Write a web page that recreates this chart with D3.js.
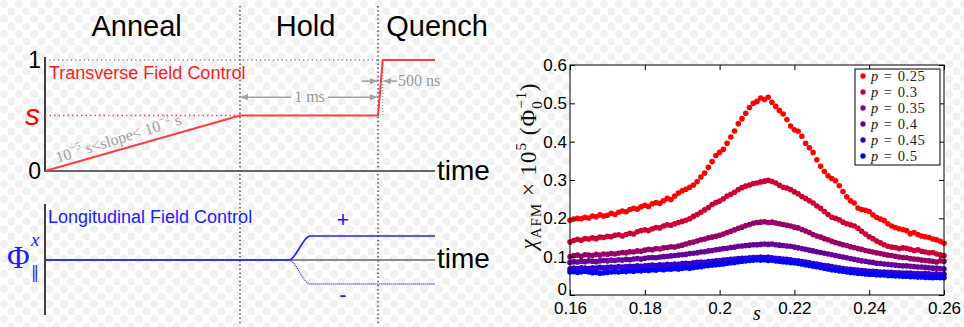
<!DOCTYPE html>
<html>
<head>
<meta charset="utf-8">
<script src="https://cdn.jsdelivr.net/npm/d3@7"></script>
<style>
  body { margin: 0; background: #fff; }
  svg { display: block; }
</style>
</head>
<body>
<div id="chart"></div>
<script>
// ---------- right panel data: chi_AFM x 10^5 vs s, one array per p ----------
const sValues = [
  0.160,0.161,0.162,0.163,0.164,0.165,0.166,0.167,0.168,0.169,
  0.170,0.171,0.172,0.173,0.174,0.175,0.176,0.177,0.178,0.179,
  0.180,0.181,0.182,0.183,0.184,0.185,0.186,0.187,0.188,0.189,
  0.190,0.191,0.192,0.193,0.194,0.195,0.196,0.197,0.198,0.199,
  0.200,0.201,0.202,0.203,0.204,0.205,0.206,0.207,0.208,0.209,
  0.210,0.211,0.212,0.213,0.214,0.215,0.216,0.217,0.218,0.219,
  0.220,0.221,0.222,0.223,0.224,0.225,0.226,0.227,0.228,0.229,
  0.230,0.231,0.232,0.233,0.234,0.235,0.236,0.237,0.238,0.239,
  0.240,0.241,0.242,0.243,0.244,0.245,0.246,0.247,0.248,0.249,
  0.250,0.251,0.252,0.253,0.254,0.255,0.256,0.257,0.258,0.259,
  0.260]

const chiP025 = [
  .195,.198,.200,.199,.203,.201,.206,.204,.209,.206,
  .208,.213,.210,.216,.219,.217,.223,.226,.224,.230,
  .234,.231,.238,.241,.239,.246,.252,.249,.258,.266,
  .272,.276,.281,.287,.296,.308,.318,.333,.348,.364,
  .372,.380,.396,.412,.428,.447,.460,.474,.489,.500,
  .505,.514,.510,.516,.503,.492,.481,.472,.458,.441,
  .431,.427,.414,.396,.384,.372,.353,.336,.322,.311,
  .304,.298,.285,.270,.256,.246,.240,.227,.223,.221,
  .218,.209,.202,.198,.194,.186,.180,.176,.173,.171,
  .168,.160,.163,.158,.154,.152,.150,.146,.144,.140,
  .135]

const chiP030 = [
  .138,.142,.145,.143,.147,.146,.149,.147,.151,.150,
  .153,.152,.156,.157,.154,.158,.161,.159,.165,.168,
  .170,.168,.173,.176,.175,.180,.183,.182,.186,.189,
  .192,.195,.199,.205,.210,.216,.222,.228,.236,.241,
  .245,.251,.258,.263,.268,.275,.280,.284,.287,.291,
  .292,.295,.297,.299,.296,.292,.286,.281,.279,.275,
  .269,.264,.257,.252,.246,.240,.232,.226,.218,.210,
  .203,.200,.196,.190,.186,.183,.180,.174,.166,.159,
  .152,.147,.141,.136,.131,.127,.125,.124,.121,.123,
  .122,.119,.116,.118,.114,.112,.110,.111,.107,.105,
  .103]

const chiP035 = [
  .100,.103,.104,.101,.105,.104,.103,.106,.104,.107,
  .106,.108,.107,.109,.111,.110,.113,.112,.115,.114,
  .117,.119,.118,.121,.120,.123,.124,.126,.125,.128,
  .130,.133,.136,.138,.141,.144,.146,.149,.151,.153,
  .156,.159,.163,.166,.170,.174,.177,.181,.184,.187,
  .189,.190,.191,.189,.190,.188,.186,.184,.182,.180,
  .177,.175,.171,.167,.163,.158,.154,.151,.147,.144,
  .140,.137,.134,.131,.129,.126,.124,.121,.119,.116,
  .114,.112,.110,.108,.106,.104,.103,.101,.099,.098,
  .097,.095,.094,.093,.091,.090,.089,.088,.086,.089,
  .088]

const chiP040 = [
  .085,.087,.086,.088,.087,.089,.088,.087,.089,.090,
  .089,.091,.090,.092,.091,.093,.092,.094,.095,.094,
  .096,.097,.098,.097,.099,.100,.101,.102,.103,.104,
  .105,.106,.108,.109,.110,.112,.113,.115,.116,.118,
  .119,.121,.122,.124,.125,.127,.128,.129,.130,.131,
  .131,.132,.133,.132,.133,.131,.130,.129,.128,.127,
  .125,.123,.121,.119,.117,.115,.113,.111,.109,.107,
  .105,.103,.101,.099,.097,.095,.093,.091,.089,.088,
  .086,.085,.083,.082,.081,.080,.079,.078,.077,.076,
  .076,.075,.074,.073,.073,.072,.071,.070,.070,.069,
  .068]

const chiP045 = [
  .068,.070,.069,.071,.070,.069,.071,.070,.072,.071,
  .072,.073,.072,.074,.073,.074,.075,.074,.076,.075,
  .076,.077,.078,.077,.079,.078,.080,.079,.081,.080,
  .082,.083,.082,.084,.085,.086,.085,.087,.088,.089,
  .090,.091,.092,.093,.094,.095,.096,.096,.097,.098,
  .098,.099,.098,.099,.097,.096,.095,.094,.093,.092,
  .090,.089,.087,.086,.084,.082,.081,.079,.077,.076,
  .074,.072,.071,.069,.068,.067,.066,.065,.064,.063,
  .062,.062,.061,.060,.060,.059,.059,.058,.058,.057,
  .057,.057,.056,.056,.055,.056,.055,.054,.055,.054,
  .054]

const chiP050 = [
  .060,.061,.059,.060,.062,.060,.058,.059,.057,.058,
  .059,.060,.061,.060,.062,.061,.063,.062,.064,.063,
  .065,.064,.066,.065,.067,.066,.068,.067,.069,.068,
  .070,.071,.070,.072,.073,.074,.076,.077,.078,.079,
  .080,.081,.083,.084,.085,.087,.088,.089,.090,.091,
  .092,.091,.092,.090,.091,.089,.088,.087,.086,.085,
  .084,.082,.081,.079,.077,.075,.074,.072,.070,.068,
  .066,.065,.063,.062,.060,.059,.058,.057,.056,.055,
  .054,.054,.053,.052,.052,.051,.051,.050,.050,.049,
  .049,.048,.048,.047,.047,.046,.046,.045,.046,.045,
  .045]

const pLabels = ['0.25', '0.3', '0.35', '0.4', '0.45', '0.5']
const seriesColors = ['#ff0000', '#cc0033', '#990066', '#660099', '#3300cc', '#0000ff']
const xTicks = [0.16, 0.18, 0.2, 0.22, 0.24, 0.26]
const yTicks = [0, 0.1, 0.2, 0.3, 0.4, 0.5, 0.6]

// ---------- left panel (schematic) data, time in arbitrary units 0..100 ----------
const phaseNames = ['Anneal', 'Hold', 'Quench']
const phaseLabelT = [23.5, 66.8, 87.5]
const phaseEdgesT = [50, 85.4]
const transverseT = [0, 50, 85.4, 86.6, 100]
const transverseS = [0, 0.5, 0.5, 1, 1]
const longT = [0, 62.5, 68, 100]
const longPlus = [0, 0, 1, 1]
const longMinus = [0, 0, -1, -1]

const W = 964, H = 327
const svg = d3.select('#chart').append('svg').attr('width', W).attr('height', H)

// faint dotted background
const defs = svg.append('defs')
const pat = defs.append('pattern').attr('id', 'dots')
  .attr('patternUnits', 'userSpaceOnUse').attr('width', 15).attr('height', 15)
pat.append('circle').attr('cx', 4).attr('cy', 4).attr('r', 4).attr('fill', '#f1f1f1')
pat.append('circle').attr('cx', 11.5).attr('cy', 11.5).attr('r', 4).attr('fill', '#f1f1f1')
svg.append('rect').attr('width', W).attr('height', H).attr('fill', 'url(#dots)')

function arrowMarker(id, orient) {
  defs.append('marker').attr('id', id)
    .attr('viewBox', '0 0 10 10').attr('refX', 9).attr('refY', 5)
    .attr('markerWidth', 5).attr('markerHeight', 5).attr('orient', orient)
    .append('path').attr('d', 'M0,1 L10,5 L0,9 Z').attr('fill', '#a3a3a3')
}
arrowMarker('arrowEnd', 'auto')
arrowMarker('arrowStart', 'auto-start-reverse')

// ================= LEFT: schematic =================
const tScale = d3.scaleLinear().domain([0, 100]).range([45, 435])
const sScale = d3.scaleLinear().domain([0, 1]).range([171, 60])
const phiScale = d3.scaleLinear().domain([-1, 1]).range([284, 236])
const sans = '"Liberation Sans", Arial, Helvetica, sans-serif'
const serif = '"Liberation Serif", "Times New Roman", serif'

const left = svg.append('g')

// phase titles
left.selectAll('text.phase')
  .data(phaseNames)
  .join('text')
  .attr('class', 'phase')
  .attr('x', (d, i) => tScale(phaseLabelT[i]))
  .attr('y', 36)
  .attr('text-anchor', (d, i) => i === 2 ? 'start' : 'middle')
  .style('font-family', sans).style('font-size', '29px')
  .text(d => d)

// phase separators
left.selectAll('line.phaseEdge')
  .data(phaseEdgesT)
  .join('line')
  .attr('x1', d => tScale(d)).attr('x2', d => tScale(d))
  .attr('y1', 6).attr('y2', 324)
  .attr('stroke', '#333').attr('stroke-width', 1.3).attr('stroke-dasharray', '1.5 2.6')

// top axes
left.append('line')
  .attr('x1', tScale(0)).attr('x2', tScale(100))
  .attr('y1', sScale(0)).attr('y2', sScale(0))
  .attr('stroke', '#666').attr('stroke-width', 2)
left.append('line')
  .attr('x1', tScale(0)).attr('x2', tScale(0))
  .attr('y1', sScale(1) - 3).attr('y2', sScale(0) + 1)
  .attr('stroke', '#000').attr('stroke-width', 1.5)

// guide dotted lines
left.append('line')
  .attr('x1', tScale(0)).attr('x2', tScale(85.4))
  .attr('y1', sScale(1)).attr('y2', sScale(1))
  .attr('stroke', '#555').attr('stroke-width', 1.2).attr('stroke-dasharray', '1.3 3')
left.append('line')
  .attr('x1', tScale(0)).attr('x2', tScale(50))
  .attr('y1', sScale(0.5)).attr('y2', sScale(0.5))
  .attr('stroke', '#ff3b3b').attr('stroke-width', 1.3).attr('stroke-dasharray', '1.5 3')
left.append('line')
  .attr('x1', tScale(86.6)).attr('x2', tScale(86.6))
  .attr('y1', sScale(1)).attr('y2', sScale(0.5))
  .attr('stroke', '#777').attr('stroke-width', 1).attr('stroke-dasharray', '1 2')

// transverse control line
const tfLine = d3.line().x(d => tScale(d[0])).y(d => sScale(d[1]))
left.append('path')
  .datum(transverseT.map((t, i) => [t, transverseS[i]]))
  .attr('d', tfLine)
  .attr('fill', 'none').attr('stroke', '#ff3b3b').attr('stroke-width', 2)

left.append('text').attr('x', tScale(0) + 4).attr('y', 79)
  .style('font-family', sans).style('font-size', '18px').attr('fill', '#ff1a1a')
  .text('Transverse Field Control')

// y labels on the top axis
left.append('text').attr('x', 41).attr('y', sScale(1)).attr('dy', '0.36em')
  .attr('text-anchor', 'end').style('font-family', sans).style('font-size', '23px').text('1')
left.append('text').attr('x', 41).attr('y', sScale(0)).attr('dy', '0.36em')
  .attr('text-anchor', 'end').style('font-family', sans).style('font-size', '23px').text('0')
left.append('text').attr('x', 40).attr('y', sScale(0.5)).attr('dy', '0.3em')
  .attr('text-anchor', 'end').style('font-family', sans).style('font-size', '30px')
  .style('font-style', 'italic').attr('fill', '#ff0000').text('s')

left.append('text').attr('x', 437).attr('y', 180)
  .style('font-family', sans).style('font-size', '28px').text('time')

// 1 ms arrow
const msY = sScale(0.665)
left.append('line').attr('x1', tScale(50) + 1).attr('x2', 291).attr('y1', msY).attr('y2', msY)
  .attr('stroke', '#a3a3a3').attr('stroke-width', 1.6).attr('marker-start', 'url(#arrowStart)')
left.append('line').attr('x1', 328).attr('x2', tScale(85.4) - 1).attr('y1', msY).attr('y2', msY)
  .attr('stroke', '#a3a3a3').attr('stroke-width', 1.6).attr('marker-end', 'url(#arrowEnd)')
left.append('text').attr('x', 309.5).attr('y', msY).attr('dy', '0.32em').attr('text-anchor', 'middle')
  .style('font-family', serif).style('font-size', '16px').attr('fill', '#999').text('1 ms')

// 500 ns arrows
const nsY = sScale(0.81)
left.append('line').attr('x1', 362).attr('x2', tScale(85.4) - 1).attr('y1', nsY).attr('y2', nsY)
  .attr('stroke', '#a3a3a3').attr('stroke-width', 1.6).attr('marker-end', 'url(#arrowEnd)')
left.append('line').attr('x1', 397).attr('x2', tScale(86.6) + 1).attr('y1', nsY).attr('y2', nsY)
  .attr('stroke', '#a3a3a3').attr('stroke-width', 1.6).attr('marker-end', 'url(#arrowEnd)')
left.append('text').attr('x', 398).attr('y', nsY).attr('dy', '0.32em')
  .style('font-family', serif).style('font-size', '16px').attr('fill', '#999').text('500 ns')

// slope annotation, rotated along the ramp
const ang = Math.atan2(sScale(0.5) - sScale(0), tScale(50) - tScale(0)) * 180 / Math.PI
const slopeX = tScale(3.2), slopeY = sScale(0.035) - 4
const slopeText = left.append('text')
  .attr('transform', `translate(${slopeX},${slopeY}) rotate(${ang - 1.5})`)
  .style('font-family', serif).style('font-size', '16px').attr('fill', '#a0a0a0')
slopeText.append('tspan').text('10')
slopeText.append('tspan').attr('dy', -7).style('font-size', '10.5px').text('−5')
slopeText.append('tspan').attr('dy', 7).text(' s<slope< 10')
slopeText.append('tspan').attr('dy', -7).style('font-size', '10.5px').text('−2')
slopeText.append('tspan').attr('dy', 7).text(' s')

// bottom: longitudinal control
left.append('line')
  .attr('x1', tScale(0)).attr('x2', tScale(100))
  .attr('y1', phiScale(0)).attr('y2', phiScale(0))
  .attr('stroke', '#666').attr('stroke-width', 1.5)
left.append('line')
  .attr('x1', tScale(0)).attr('x2', tScale(0))
  .attr('y1', 204).attr('y2', 315)
  .attr('stroke', '#000').attr('stroke-width', 1.5)

const lfLine = d3.line().x(d => tScale(d[0])).y(d => phiScale(d[1])).curve(d3.curveMonotoneX)
left.append('path')
  .datum(longT.map((t, i) => [t, longMinus[i]]))
  .attr('d', lfLine)
  .attr('fill', 'none').attr('stroke', '#3333ff').attr('stroke-width', 1.3).attr('stroke-dasharray', '1 1')
left.append('path')
  .datum(longT.map((t, i) => [t, longPlus[i]]))
  .attr('d', lfLine)
  .attr('fill', 'none').attr('stroke', '#2222ff').attr('stroke-width', 1.5)

left.append('text').attr('x', tScale(0) + 3).attr('y', 223)
  .style('font-family', sans).style('font-size', '18px').attr('fill', '#1a1aff')
  .text('Longitudinal Field Control')
left.append('text').attr('x', 343).attr('y', 227).attr('text-anchor', 'middle')
  .style('font-family', sans).style('font-size', '22px').attr('fill', '#1a1aff').text('+')
left.append('text').attr('x', 343).attr('y', 302).attr('text-anchor', 'middle')
  .style('font-family', sans).style('font-size', '22px').attr('fill', '#1a1aff').text('-')
left.append('text').attr('x', 437).attr('y', 268)
  .style('font-family', sans).style('font-size', '28px').text('time')

left.append('text').attr('x', 7).attr('y', 268)
  .style('font-family', serif).style('font-size', '31px').attr('fill', '#1a1aff').text('Φ')
left.append('text').attr('x', 31).attr('y', 246)
  .style('font-family', serif).style('font-size', '19px').style('font-style', 'italic')
  .attr('fill', '#1a1aff').text('x')
left.append('text').attr('x', 31).attr('y', 278)
  .style('font-family', '"DejaVu Serif", serif').style('font-size', '16px')
  .attr('fill', '#1a1aff').text('‖')

// ================= RIGHT: chi_AFM scatter =================
const plot = { left: 570, right: 944, top: 65, bottom: 295 }
const x = d3.scaleLinear().domain([0.16, 0.26]).range([plot.left, plot.right])
const y = d3.scaleLinear().domain([0, 0.6]).range([plot.bottom, plot.top])

const right = svg.append('g')
right.append('rect')
  .attr('x', plot.left).attr('y', plot.top)
  .attr('width', plot.right - plot.left).attr('height', plot.bottom - plot.top)
  .attr('fill', '#fff')

const series = [chiP025, chiP030, chiP035, chiP040, chiP045, chiP050]
series.forEach((vals, k) => {
  right.append('g')
    .selectAll('circle')
    .data(vals)
    .join('circle')
    .attr('cx', (d, i) => x(sValues[i]))
    .attr('cy', d => y(d))
    .attr('r', 2.8)
    .attr('fill', seriesColors[k])
})

const fmt = d => String(+d.toFixed(2))
const axisStyle = g => {
  g.select('.domain').remove()
  g.selectAll('line').attr('stroke', '#000')
  g.selectAll('text').style('font-family', sans).style('font-size', '17px').attr('fill', '#000')
}
right.append('g').attr('transform', `translate(0,${plot.bottom})`)
  .call(d3.axisBottom(x).tickValues(xTicks).tickSize(-5).tickPadding(7).tickFormat(fmt))
  .call(axisStyle)
right.append('g').attr('transform', `translate(0,${plot.top})`)
  .call(d3.axisTop(x).tickValues(xTicks).tickSize(-5).tickFormat(''))
  .call(axisStyle)
const yAxis = right.append('g').attr('transform', `translate(${plot.left},0)`)
  .call(d3.axisLeft(y).tickValues(yTicks).tickSize(-5).tickPadding(3).tickFormat(fmt))
  .call(axisStyle)
// the "0" label sits just above the first x label, as in the original
yAxis.selectAll('.tick text').filter(d => d === 0).attr('dy', '-0.05em')
right.append('g').attr('transform', `translate(${plot.right},0)`)
  .call(d3.axisRight(y).tickValues(yTicks).tickSize(-5).tickFormat(''))
  .call(axisStyle)

right.append('rect')
  .attr('x', plot.left).attr('y', plot.top)
  .attr('width', plot.right - plot.left).attr('height', plot.bottom - plot.top)
  .attr('fill', 'none').attr('stroke', '#000').attr('stroke-width', 1)

// x label
right.append('text').attr('x', (plot.left + plot.right) / 2).attr('y', 320)
  .attr('text-anchor', 'middle').style('font-family', serif).style('font-size', '20px')
  .style('font-style', 'italic').text('s')

// y label
const yLab = right.append('text')
  .attr('transform', `translate(536,${(plot.top + plot.bottom) / 2 - 14}) rotate(-90)`)
  .attr('text-anchor', 'middle')
  .style('font-family', serif).style('font-size', '23px').style('letter-spacing', '1px')
  .attr('fill', '#111')
yLab.append('tspan').style('font-style', 'italic').text('χ')
yLab.append('tspan').attr('dy', 5).style('font-size', '15px').text('AFM')
yLab.append('tspan').attr('dy', -5).text(' × 10')
yLab.append('tspan').attr('dy', -10).style('font-size', '15px').text('5')
yLab.append('tspan').attr('dy', 10).text(' (Φ')
yLab.append('tspan').attr('dy', -10).style('font-size', '15px').text('−1')
yLab.append('tspan').attr('dx', -18).attr('dy', 16).style('font-size', '15px').text('0')
yLab.append('tspan').attr('dx', 9).attr('dy', -6).text(')')

// legend
const legend = right.append('g')
legend.append('rect').attr('x', 855).attr('y', 69).attr('width', 85).attr('height', 96)
  .attr('fill', '#fff').attr('stroke', '#000').attr('stroke-width', 1)
const rowY = i => 76 + i * 16
legend.selectAll('circle')
  .data(pLabels)
  .join('circle')
  .attr('cx', 863).attr('cy', (d, i) => rowY(i)).attr('r', 2.7)
  .attr('fill', (d, i) => seriesColors[i])
const legText = legend.selectAll('text')
  .data(pLabels)
  .join('text')
  .attr('x', 871).attr('y', (d, i) => rowY(i)).attr('dy', '0.33em')
  .style('font-family', serif).style('font-size', '14.5px').style('letter-spacing', '0.6px')
  .attr('fill', '#222')
legText.append('tspan').style('font-style', 'italic').text('p')
legText.append('tspan').attr('dx', 5).text('=')
legText.append('tspan').attr('dx', 5).text(d => d)
</script>
</body>
</html>
